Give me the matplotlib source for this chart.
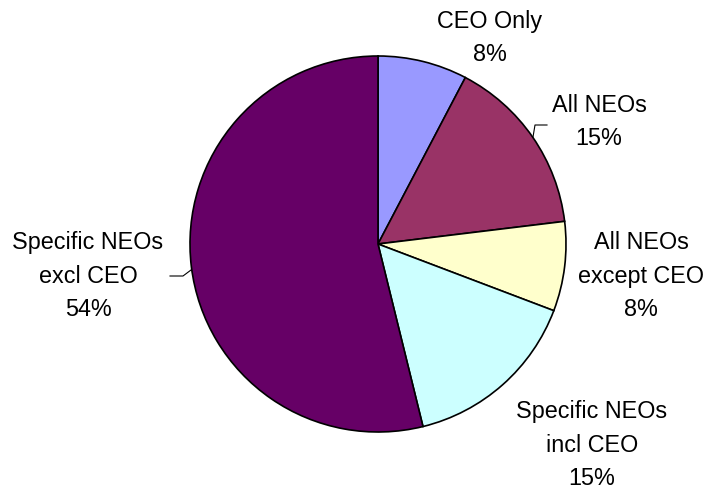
import matplotlib.pyplot as plt

labels = ["CEO Only", "All NEOs", "All NEOs\nexcept CEO", "Specific NEOs\nincl CEO", "Specific NEOs\nexcl CEO"]
counts = [1, 2, 1, 2, 7]
colors = ["#9999FF", "#993366", "#FFFFCC", "#CCFFFF", "#660066"]

W, H = 708, 490
cx, cy, R = 378, 244, 188


def px(x, y):
    # pixel position -> data units (pie radius = 1)
    return (x - cx) / R, (cy - y) / R


fig = plt.figure(figsize=(W / 100, H / 100), dpi=100)
ax = fig.add_axes([0, 0, 1, 1])

ax.pie(counts, colors=colors, startangle=90, counterclock=False, radius=1,
       wedgeprops=dict(edgecolor="black", linewidth=1.2))

ax.set_xlim(-cx / R, (W - cx) / R)
ax.set_ylim(-(H - cy) / R, cy / R)
ax.set_aspect("auto")
ax.axis("off")

total = sum(counts)
pct = [f"{round(c / total * 100)}%" for c in counts]

text_pos = [(490, 38), (599, 122), (641, 276), (592, 445), (88, 276)]
for lab, p, (tx, ty) in zip(labels, pct, text_pos):
    x, y = px(tx, ty)
    ax.text(x, y, f"{lab}\n{p}", ha="center", va="center", fontsize=16.8,
            family="Liberation Sans", linespacing=1.6, color="black")

# leader lines
for pts in [[(533, 137), (535, 125), (547, 125)],
            [(191, 270), (183, 276), (170, 276)]]:
    xs, ys = zip(*[px(a, b) for a, b in pts])
    ax.plot(xs, ys, color="black", lw=0.8)

fig.savefig("out.png", dpi=100)
